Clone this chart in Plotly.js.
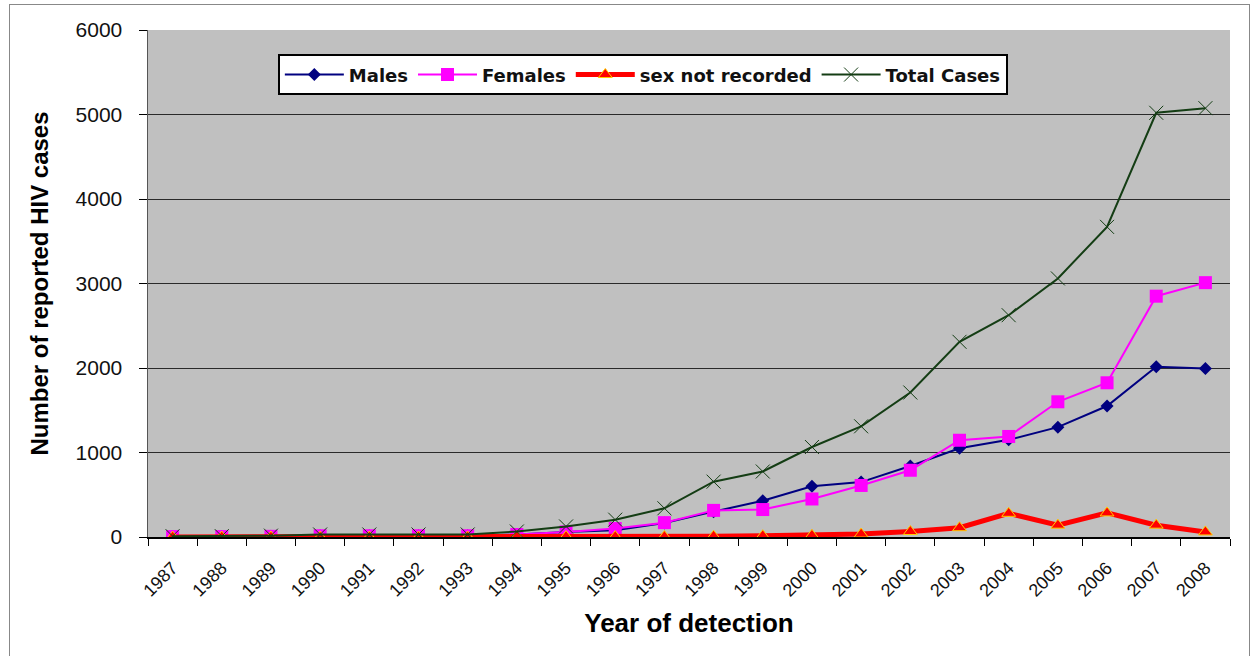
<!DOCTYPE html>
<html>
<head>
<meta charset="utf-8">
<script src="https://cdn.plot.ly/plotly-3.0.1.min.js"></script>
<style>
html,body{margin:0;padding:0;background:#fff;}
#frame{position:absolute;left:9px;top:4px;width:1241px;height:660px;border:1px solid #888;box-sizing:border-box;pointer-events:none;}
#chart{width:1258px;height:656px;}
</style>
</head>
<body>
<div id="chart"></div>
<div id="frame"></div>
<script>
const years = ["1987","1988","1989","1990","1991","1992","1993","1994","1995","1996","1997","1998","1999","2000","2001","2002","2003","2004","2005","2006","2007","2008"];
const males = [5,5,8,15,15,15,15,30,60,80,165,300,430,600,650,840,1050,1150,1300,1550,2015,1995];
const females = [5,5,8,15,15,15,15,30,60,100,170,315,325,450,610,790,1145,1190,1600,1825,2850,3010];
const notRecorded = [0,0,0,0,0,0,0,5,5,5,5,10,15,20,35,65,110,280,140,285,140,60];
const total = [10,10,16,30,30,30,30,65,125,205,340,655,775,1065,1310,1710,2310,2625,3060,3670,5020,5075];

const arial = "Liberation Sans, Arial, sans-serif";
const wide = "DejaVu Sans, Verdana, sans-serif";

const traces = [
  {x: years, y: males, name: "Males", type: "scatter", mode: "lines+markers",
   line: {color: "#000080", width: 2}, marker: {symbol: "diamond", size: 10, color: "#000080"}},
  {x: years, y: females, name: "Females", type: "scatter", mode: "lines+markers",
   line: {color: "#ff00ff", width: 2}, marker: {symbol: "square", size: 13, color: "#ff00ff"}},
  {x: years, y: notRecorded, name: "sex not recorded", type: "scatter", mode: "lines+markers",
   line: {color: "#ff0000", width: 5}, marker: {symbol: "triangle-up", size: 12, color: "#ff0000", line: {color: "#ffcc00", width: 1}}},
  {x: years, y: total, name: "Total Cases", type: "scatter", mode: "lines+markers",
   line: {color: "#143d14", width: 2}, marker: {symbol: "x-thin-open", size: 14, line: {color: "#143d14", width: 1}}}
];

const layout = {
  width: 1258, height: 656,
  margin: {l: 148, r: 28, t: 30, b: 119},
  paper_bgcolor: "#ffffff",
  plot_bgcolor: "#c0c0c0",
  showlegend: true,
  legend: {
    orientation: "h", x: 0.12, y: 0.952, xanchor: "left", yanchor: "top",
    bgcolor: "#ffffff", bordercolor: "#000000", borderwidth: 2,
    font: {family: wide, size: 18, color: "#111", weight: "bold"},
    itemwidth: 59, tracegroupgap: 0
  },
  xaxis: {
    type: "category",
    tickson: "boundaries",
    ticks: "outside", ticklen: 7, tickcolor: "#000",
    ticklabelstandoff: 12,
    showline: true, linecolor: "#000", linewidth: 1.5,
    showgrid: false, zeroline: false,
    tickangle: -45,
    tickfont: {family: arial, size: 18, color: "#111"},
    title: {text: "<b>Year of detection</b>", font: {family: arial, size: 26, color: "#000"}, standoff: 14},
    range: [-0.5, 21.5]
  },
  yaxis: {
    range: [0, 6000], dtick: 1000,
    ticks: "outside", ticklen: 8, tickcolor: "#000",
    ticklabelstandoff: 12,
    showline: true, linecolor: "#555", linewidth: 1.5,
    showgrid: true, gridcolor: "#2a2a2a", gridwidth: 1,
    zeroline: false,
    tickfont: {family: arial, size: 21, color: "#111"},
    title: {text: "<b>Number of reported HIV cases</b>", font: {family: arial, size: 24, color: "#000"}, standoff: 20}
  }
};

Plotly.newPlot("chart", traces, layout, {displayModeBar: false, staticPlot: true});
</script>
</body>
</html>
